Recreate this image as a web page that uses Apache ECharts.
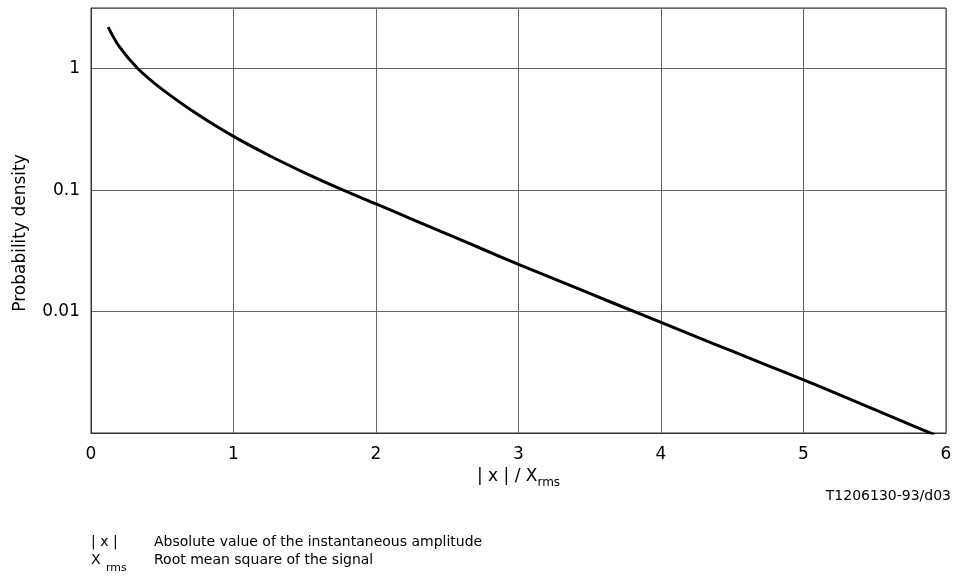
<!DOCTYPE html>
<html>
<head>
<meta charset="utf-8">
<script src="https://cdn.jsdelivr.net/npm/echarts@6/dist/echarts.min.js"></script>
<style>html,body{margin:0;padding:0;background:#fff}#c{width:957px;height:585px}</style>
</head>
<body>
<div id="c"></div>
<script>
const xValues = [0.12, 0.2, 0.33, 0.5, 0.75, 1, 1.25, 1.5, 1.77, 2, 2.25, 2.5, 2.75, 3, 3.25, 3.5, 3.75, 4, 4.25, 4.5, 4.75, 5, 5.25, 5.5, 5.75, 5.92];
const densityValues = [2.2, 1.51, 1.0, 0.676, 0.419, 0.277, 0.193, 0.139, 0.1, 0.077, 0.0578, 0.0435, 0.0326, 0.0245, 0.0186, 0.0141, 0.0107, 0.00815, 0.00619, 0.00472, 0.00359, 0.00274, 0.00207, 0.00156, 0.00117, 0.00097];
const xTicks = [0, 1, 2, 3, 4, 5, 6];
const yTickLabels = {'1': '1', '0.1': '0.1', '0.01': '0.01'};

const FONT = '"DejaVu Sans", sans-serif';
const chart = echarts.init(document.getElementById('c'));
chart.setOption({
  animation: false,
  backgroundColor: '#fff',
  textStyle: {fontFamily: FONT},
  grid: {left: 91, right: 11, top: 8, bottom: 152, show: true, borderColor: '#333', borderWidth: 1, containLabel: false},
  xAxis: {
    type: 'value', min: xTicks[0], max: xTicks[xTicks.length - 1], interval: 1,
    axisLine: {show: true, lineStyle: {color: '#333', width: 1}},
    axisTick: {show: false},
    splitLine: {show: true, lineStyle: {color: '#666', width: 1}},
    axisLabel: {color: '#000', fontSize: 17, margin: 13, fontFamily: FONT},
    name: '{n|| x | / X}{s|rms}',
    nameLocation: 'middle', nameGap: 18,
    nameTextStyle: {
      verticalAlign: 'top',
      rich: {
        n: {fontSize: 17, color: '#000', fontFamily: FONT, verticalAlign: 'top', lineHeight: 19},
        s: {fontSize: 12, color: '#000', fontFamily: FONT, verticalAlign: 'top', padding: [9, 0, 0, 0], lineHeight: 19}
      }
    }
  },
  yAxis: {
    type: 'log', logBase: 10, min: 0.001, max: 3.1623,
    axisLine: {show: true, lineStyle: {color: '#333', width: 1}},
    axisTick: {show: false},
    splitLine: {show: true, lineStyle: {color: '#666', width: 1}},
    axisLabel: {
      color: '#000', fontSize: 17, margin: 11, fontFamily: FONT,
      formatter: function (v) {
        for (const k in yTickLabels) { if (Math.abs(v - Number(k)) < Number(k) * 1e-6) return yTickLabels[k]; }
        return '';
      }
    },
    name: 'Probability density', nameLocation: 'middle', nameGap: 62, nameRotate: 90,
    nameTextStyle: {color: '#000', fontSize: 17, fontFamily: FONT, padding: [0, 25, 0, 0]}
  },
  series: [{
    type: 'line', data: xValues.map((x, i) => [x, densityValues[i]]),
    smooth: 0.3, showSymbol: false,
    lineStyle: {color: '#000', width: 3}
  }],
  graphic: [
    {type: 'text', right: 6, top: 489, style: {text: 'T1206130-93/d03', font: '14px ' + FONT, fill: '#000'}},
    {type: 'text', x: 91, y: 535, style: {text: '| x |', font: '14px ' + FONT, fill: '#000'}},
    {type: 'text', x: 154, y: 535, style: {text: 'Absolute value of the instantaneous amplitude', font: '14px ' + FONT, fill: '#000'}},
    {type: 'text', x: 91, y: 553, style: {text: 'X', font: '14px ' + FONT, fill: '#000'}},
    {type: 'text', x: 106, y: 563, style: {text: 'rms', font: '11px ' + FONT, fill: '#000'}},
    {type: 'text', x: 154, y: 553, style: {text: 'Root mean square of the signal', font: '14px ' + FONT, fill: '#000'}}
  ]
});
</script>
</body>
</html>
